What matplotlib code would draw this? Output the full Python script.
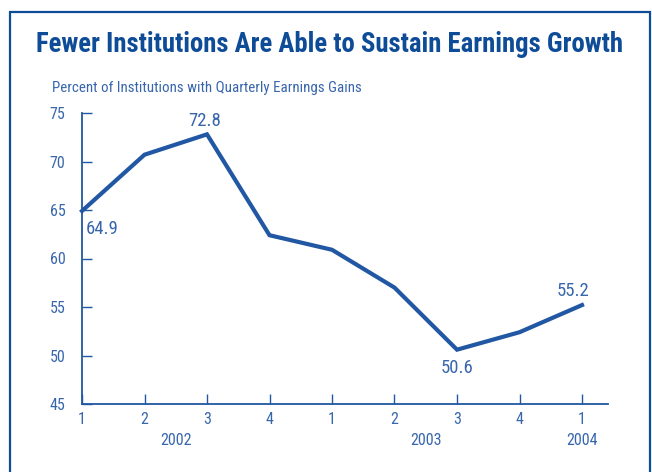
import matplotlib
matplotlib.use("Agg")
import matplotlib.pyplot as plt
import matplotlib.patches as mp
import matplotlib.transforms as mt

# data
quarters = ["1", "2", "3", "4", "1", "2", "3", "4", "1"]
pct_gains = [64.9, 70.7, 72.8, 62.4, 60.9, 57.0, 50.6, 52.4, 55.2]
years = ["2002", "2003", "2004"]
year_pos = [1.5, 5.5, 8]
labeled = [0, 2, 6, 8]

title_clr = "#0f4c98"
line_clr = "#2157a3"
txt_clr = "#3866ac"
plt.rcParams["font.family"] = ["Roboto Condensed", "DejaVu Sans"]

W, H = 652, 472
fig = plt.figure(figsize=(W / 100, H / 100), dpi=100)

# blue frame round the whole chart
frame = mp.Rectangle((10 / W, -0.05), (640 / W), 1 - 12 / H + 0.05, transform=fig.transFigure,
                     fill=False, edgecolor=title_clr, lw=1.6, clip_on=False)
fig.patches.append(frame)

fig.text(36 / W, 1 - 45 / H, "Fewer Institutions Are Able to Sustain Earnings Growth",
         color=title_clr, fontsize=19.3, fontweight="bold", va="center", ha="left")
fig.text(52 / W, 1 - 88 / H, "Percent of Institutions with Quarterly Earnings Gains",
         color=txt_clr, fontsize=10.8, va="center", ha="left")

ax = fig.add_axes([82 / W, 1 - 404 / H, 526 / W, 291 / H])
x = list(range(len(pct_gains)))
ax.plot(x, pct_gains, color=line_clr, lw=3, solid_joinstyle="miter", clip_on=False)

ax.set_xlim(0, 526 / 62.5)
ax.set_ylim(45, 75)
ax.set_xticks(x)
ax.set_xticklabels(quarters)
ax.set_yticks([45, 50, 55, 60, 65, 70, 75])

for s in ["top", "right"]:
    ax.spines[s].set_visible(False)
for s in ["left", "bottom"]:
    ax.spines[s].set_color(line_clr)
    ax.spines[s].set_linewidth(1.3)
ax.tick_params(direction="in", length=7, width=1, color=line_clr, labelcolor=txt_clr,
               labelsize=11.5)
ax.tick_params(axis="y", pad=12)
ax.tick_params(axis="x", pad=6)

trans = mt.blended_transform_factory(ax.transData, ax.transAxes)
for yr, p in zip(years, year_pos):
    ax.text(p, -0.124, yr, transform=trans, ha="center", va="center", color=txt_clr, fontsize=11.5)

# value labels
offs = {0: (4, -18, "left"), 2: (-2, 13, "center"), 6: (0, -18, "center"), 8: (-9, 14, "center")}
for i in labeled:
    dx, dy, ha = offs[i]
    ax.annotate(f"{pct_gains[i]:.1f}", (x[i], pct_gains[i]), xytext=(dx, dy),
                textcoords="offset pixels", ha=ha, va="center", color=txt_clr, fontsize=13.5)

fig.savefig("out.png", dpi=100)
